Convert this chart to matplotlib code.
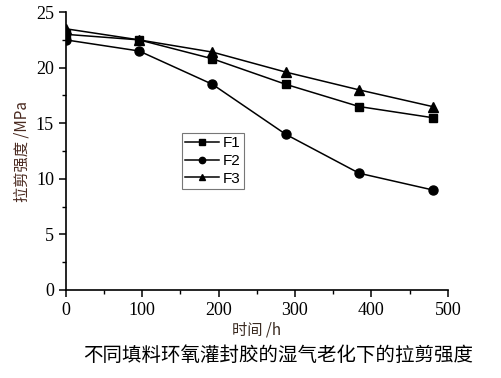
import matplotlib
matplotlib.use("Agg")
from matplotlib import pyplot as plt
from matplotlib.ticker import MultipleLocator

hours = [0, 96, 192, 288, 384, 480]
f1 = [23.0, 22.5, 20.8, 18.5, 16.5, 15.5]
f2 = [22.5, 21.5, 18.5, 14.0, 10.5, 9.0]
f3 = [23.5, 22.5, 21.4, 19.6, 18.0, 16.5]

cjk = ['Noto Sans CJK SC', 'DejaVu Sans']
plt.rcParams['font.family'] = ['Liberation Serif', 'DejaVu Serif']

fig = plt.figure(figsize=(5.02, 3.78), dpi=100)
ax = fig.add_axes([0.131, 0.233, 0.761, 0.735])

ax.plot(hours, f1, 'k-', marker='s', markersize=6, linewidth=1.1, label='F1')
ax.plot(hours, f2, 'k-', marker='o', markersize=6.5, linewidth=1.1, label='F2')
ax.plot(hours, f3, 'k-', marker='^', markersize=7, linewidth=1.1, label='F3')

ax.set_xlim(0, 500)
ax.set_ylim(0, 25)
ax.xaxis.set_major_locator(MultipleLocator(100))
ax.xaxis.set_minor_locator(MultipleLocator(50))
ax.yaxis.set_major_locator(MultipleLocator(5))
ax.yaxis.set_minor_locator(MultipleLocator(2.5))
ax.spines['top'].set_visible(False)
ax.spines['right'].set_visible(False)
ax.spines['left'].set_linewidth(1.2)
ax.spines['bottom'].set_linewidth(1.2)
ax.tick_params(which='major', direction='out', length=5, width=1.1, labelsize=13)
ax.tick_params(which='minor', direction='out', length=3, width=1.0)

ax.set_xlabel('时间 /h', family=cjk, fontsize=11, color='#3a2a20', labelpad=2)
ax.set_ylabel('拉剪强度 /MPa', family=cjk, fontsize=11, color='#4a2a20', labelpad=4)

leg = ax.legend(loc='upper left', bbox_to_anchor=(182 / 502, 1 - 133 / 378),
                bbox_transform=fig.transFigure, frameon=True, fancybox=False,
                edgecolor='#555555', prop={'family': 'Liberation Sans', 'size': 11},
                handlelength=2.2, handletextpad=0.3, labelspacing=0.25,
                borderpad=0.2, borderaxespad=0, markerscale=0.7)
leg.get_frame().set_linewidth(0.8)

fig.text(0.555, 0.06, '不同填料环氧灌封胶的湿气老化下的拉剪强度', family=cjk,
         fontsize=14, ha='center', va='center')

fig.savefig('out.png', dpi=100)
